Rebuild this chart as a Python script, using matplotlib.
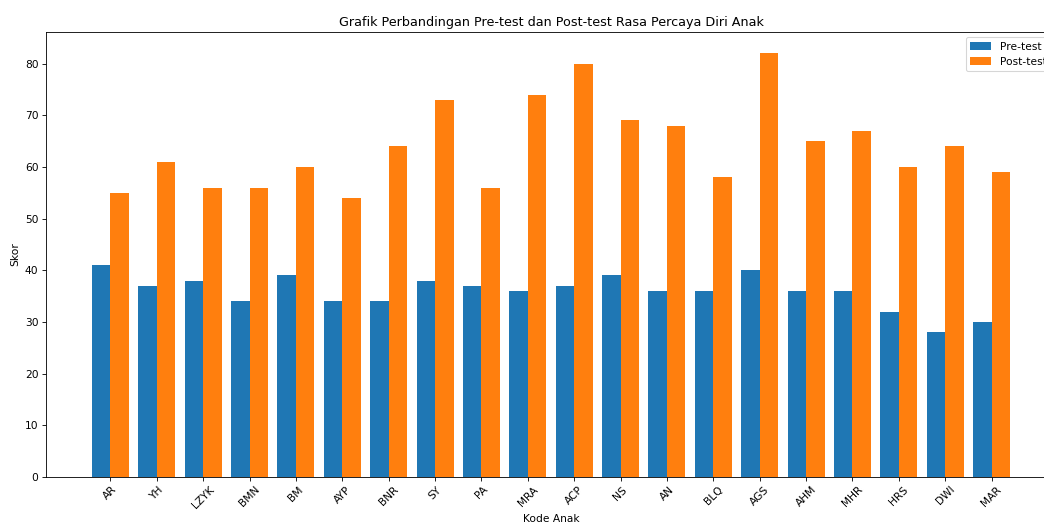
import numpy as np
import matplotlib
matplotlib.use("Agg")
import matplotlib.pyplot as plt

kode = ['AR', 'YH', 'LZYK', 'BMN', 'BM', 'AYP', 'BNR', 'SY', 'PA', 'MRA',
        'ACP', 'NS', 'AN', 'BLQ', 'AGS', 'AHM', 'MHR', 'HRS', 'DWI', 'MAR']
pre_test = [41, 37, 38, 34, 39, 34, 34, 38, 37, 36,
            37, 39, 36, 36, 40, 36, 36, 32, 28, 30]
post_test = [55, 61, 56, 56, 60, 54, 64, 73, 56, 74,
             80, 69, 68, 58, 82, 65, 67, 60, 64, 59]

dpi = 76.5
fig = plt.figure(figsize=(1044 / dpi, 525 / dpi), dpi=dpi)
# axes runs past the right edge, like the cropped original
ax = fig.add_axes([46 / 1044, 48 / 525, 1010 / 1044, 445 / 525])

x = np.arange(len(kode))
w = 0.4
ax.bar(x - w / 2, pre_test, w, label='Pre-test')
ax.bar(x + w / 2, post_test, w, label='Post-test')

ax.set_xticks(x)
ax.set_xticklabels(kode, rotation=45)
ax.set_xlabel('Kode Anak')
ax.set_ylabel('Skor')
ax.set_title('Grafik Perbandingan Pre-test dan Post-test Rasa Percaya Diri Anak')
ax.legend(loc='upper right')
ax.spines['right'].set_visible(False)

fig.savefig('out.png', dpi=dpi)
